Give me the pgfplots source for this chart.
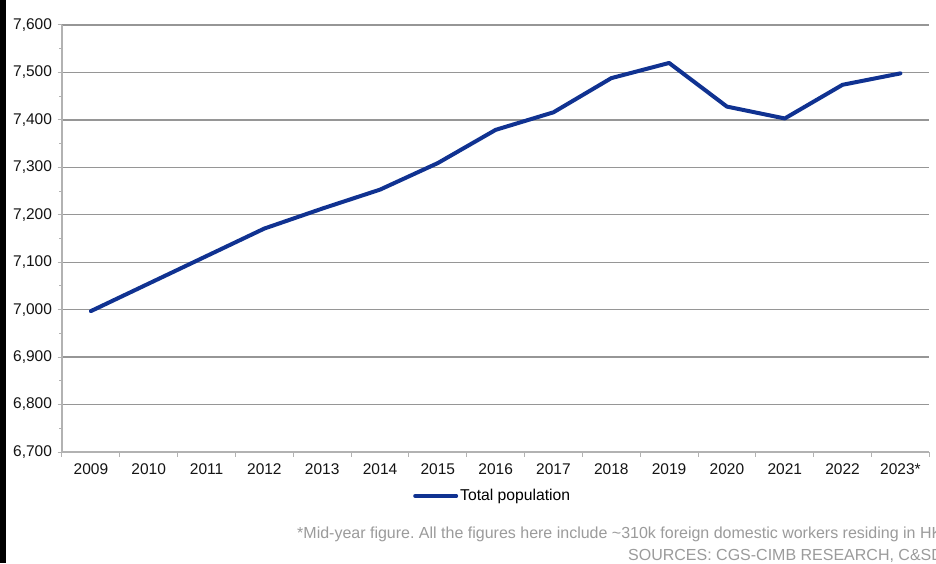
\documentclass[border=0pt]{standalone}
\usepackage{fontspec}
\setmainfont{Liberation Sans}
\usepackage{pgfplots}
\pgfplotsset{compat=1.18}
\definecolor{popblue}{RGB}{16,50,145}
\definecolor{gridgray}{RGB}{150,150,150}
\definecolor{axisgray}{RGB}{178,178,178}
\definecolor{notegray}{RGB}{155,155,155}
\definecolor{labelblack}{RGB}{20,20,20}

\pgfplotstableread{
x year pop
0 2009 6997
1 2010 7055
2 2011 7113
3 2012 7171
4 2013 7213
5 2014 7253
6 2015 7309
7 2016 7379
8 2017 7416
9 2018 7488
10 2019 7520
11 2020 7428
12 2021 7403
13 2022 7474
14 2023 7498
}\poptable

\begin{document}
\frenchspacing
\begin{tikzpicture}[x=1pt,y=1pt]
\useasboundingbox (0,0) rectangle (936,563);
\fill[white] (0,0) rectangle (936,563);
\begin{scope}
\clip (0,0) rectangle (936,563);
\fill[black] (0,0) rectangle (6,563);
\begin{axis}[
  at={(62pt,111pt)}, anchor=south west,
  scale only axis, width=867.3pt, height=427pt,
  xmin=-0.5, xmax=14.5, ymin=6700, ymax=7600,
  xtick={-0.5,0.5,...,14.5},
  x tick label as interval,
  xticklabels={2009,2010,2011,2012,2013,2014,2015,2016,2017,2018,2019,2020,2021,2022,2023*},
  ytick={6700,6800,...,7600},
  minor y tick num=1,
  tick align=outside,
  major tick length=4.5pt,
  minor tick length=3pt,
  tick style={axisgray, line width=1pt},
  axis x line*=bottom, axis y line*=left,
  axis line style={-, axisgray, line width=1.2pt},
  ymajorgrids,
  major grid style={gridgray, line width=1.3pt},
  /pgf/number format/1000 sep={,},
  /pgf/number format/assume math mode=true,
  tick label style={font=\fontsize{15.5}{18}\selectfont, text=labelblack},
  x tick label style={yshift=-4pt},
  y tick label style={xshift=-2pt},
  legend style={at={(0.4047,-0.103)}, anchor=west, draw=none, fill=none,
    font=\fontsize{15.7}{18}\selectfont, inner sep=0pt},
  legend image code/.code={\draw[#1] (0pt,0pt) -- (41pt,0pt);},
]
\addplot[popblue, line width=4pt, line join=round, line cap=round] table[x=x, y=pop] {\poptable};
\addlegendentry{Total population}
\end{axis}
\node[anchor=base west, text=notegray, font=\fontsize{16}{19}\selectfont, inner sep=0pt] at (297,25) {*Mid-year figure. All the figures here include \textasciitilde310k foreign domestic workers residing in HK};
\node[anchor=base west, text=notegray, font=\fontsize{16}{19}\selectfont, inner sep=0pt] at (628,3) {SOURCES: CGS-CIMB RESEARCH, C\&SD};
\end{scope}
\end{tikzpicture}
\end{document}
